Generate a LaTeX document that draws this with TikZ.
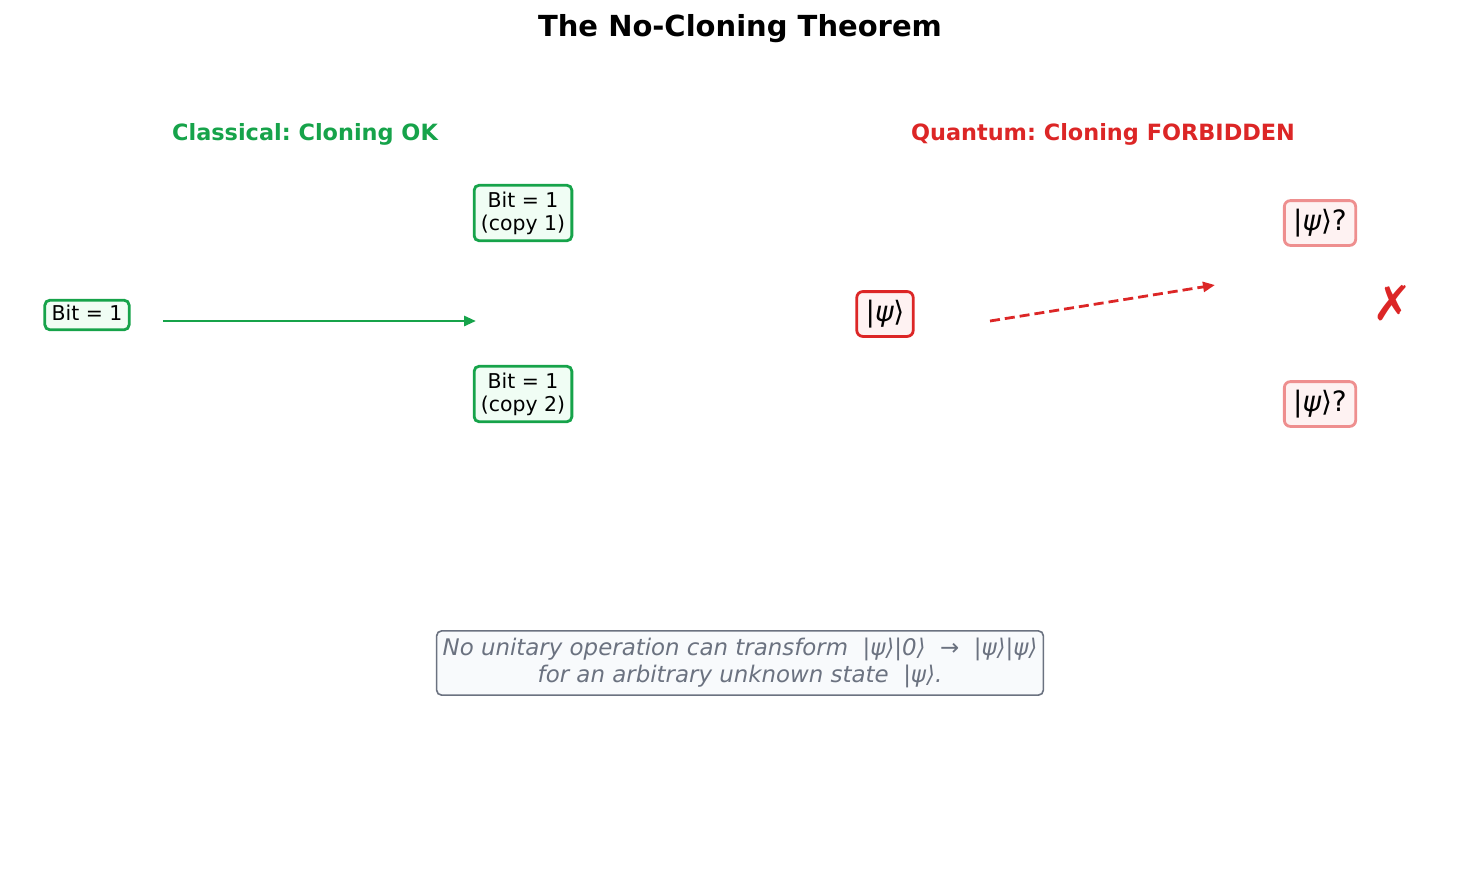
\documentclass[tikz,border=0pt]{standalone}
\usepackage{fontspec}
\setmainfont{DejaVu Sans}
\frenchspacing
\usetikzlibrary{arrows.meta}
\definecolor{cgreen}{HTML}{16A34A}
\definecolor{cgreenfill}{HTML}{F0FDF4}
\definecolor{cred}{HTML}{DC2626}
\definecolor{credfill}{HTML}{FEF2F2}
\definecolor{credlight}{HTML}{EE8F8F}
\definecolor{cgray}{HTML}{6B7280}
\definecolor{cgrayfill}{HTML}{F8FAFC}
\newcommand{\ketpsi}{|{\itshape ψ}⟩}
\tikzset{
  gbox/.style={draw=cgreen, fill=cgreenfill, line width=1.4pt, rounded corners=2.5pt, inner xsep=3.4pt, inner ysep=3.2pt, align=center, font=\fontsize{10.2}{11.5}\selectfont},
  gsingle/.style={gbox, inner ysep=2.3pt, text height=7.75pt, text depth=2.45pt},
  rbox/.style={draw=cred, fill=credfill, line width=1.4pt, rounded corners=3pt, inner xsep=4.4pt, inner ysep=4.2pt, text height=10.6pt, text depth=3.4pt, font=\fontsize{14}{16}\selectfont},
  rlbox/.style={rbox, draw=credlight},
  lbl/.style={font=\bfseries\fontsize{11.2}{13}\selectfont},
  conn/.style={line width=1.4pt, -{Triangle[length=6pt,width=5pt]}},
}
\begin{document}
\begin{tikzpicture}[x=0.5pt,y=-0.5pt]
\useasboundingbox (0,0) rectangle (1480,880);
\node[font=\bfseries\fontsize{14.5}{17}\selectfont] (title) at (740,29) {The No-Cloning Theorem};
\node[lbl, text=cgreen] (cl) at (305,134) {Classical: Cloning OK};
\node[lbl, text=cred] (ql) at (1103,134) {Quantum: Cloning FORBIDDEN};
\node[gsingle] (b0) at (87,315) {Bit = 1};
\node[gbox] (b1) at (523,213) {Bit = 1\\(copy 1)};
\node[gbox] (b2) at (523,394) {Bit = 1\\(copy 2)};
\coordinate (ga) at (163,321);
\coordinate (gb) at (476,321);
\draw[conn, cgreen] (ga) -- (gb);
\node[rbox] (q0) at (885,314) {\ketpsi};
\node[rlbox] (q1) at (1320,223) {\ketpsi?};
\node[rlbox] (q2) at (1320,404) {\ketpsi?};
\coordinate (ra) at (990,321);
\coordinate (rb) at (1215,285);
\draw[conn, cred, dash pattern=on 5pt off 2.5pt] (ra) -- (rb);
\node[text=cred, font=\fontsize{24}{26}\selectfont] (x) at (1393,303) {✗};
\node[draw=cgray, fill=cgrayfill, text=cgray, line width=0.8pt, rounded corners=2.5pt, align=center, inner xsep=3pt, inner ysep=3.5pt, font=\itshape\fontsize{11.45}{13.7}\selectfont] (note) at (740,663) {No unitary operation can transform \ |ψ⟩|0⟩ \ → \ |ψ⟩|ψ⟩\\for an arbitrary unknown state \ |ψ⟩.};
\end{tikzpicture}
\end{document}
